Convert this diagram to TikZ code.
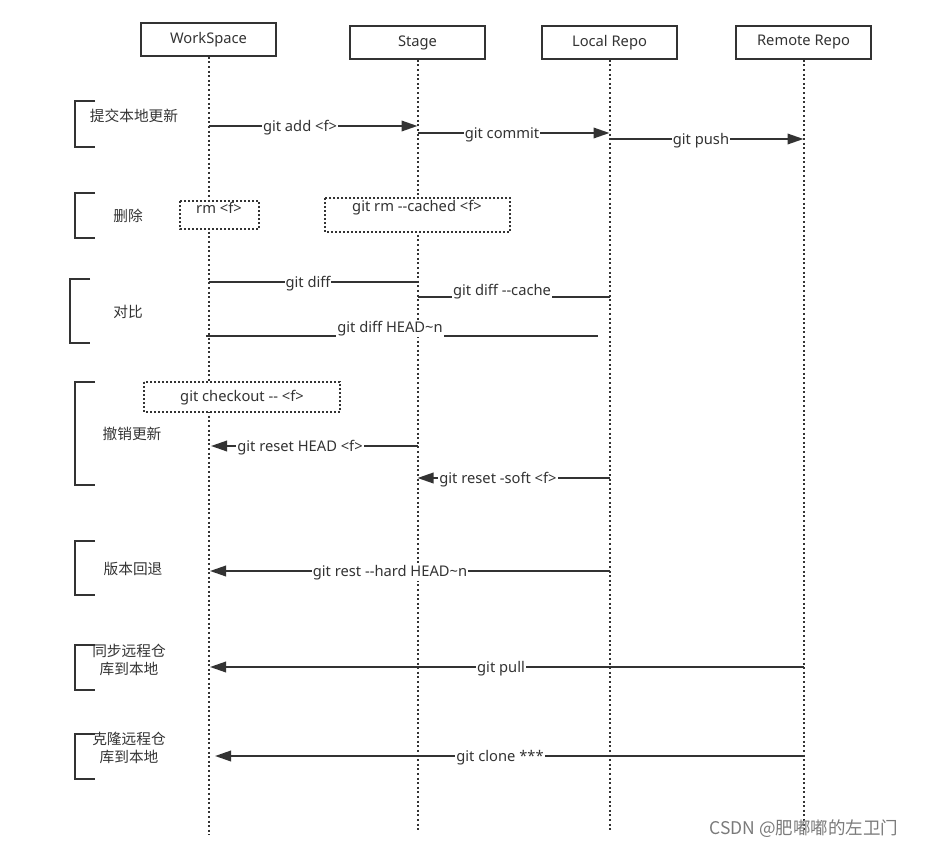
\documentclass[tikz,border=0pt]{standalone}
\usepackage{fontspec}
\newfontfamily\ff{Noto Sans}
\newfontfamily\cjk{Noto Sans CJK SC}
\usetikzlibrary{arrows.meta}
\definecolor{ink}{HTML}{333333}
\definecolor{wm}{HTML}{7A7A7A}
\begin{document}
\begin{tikzpicture}[x=1pt,y=-1pt,
 txt/.style={font=\ff\fontsize{14.7}{17}\selectfont,text=ink},
 hdr/.style={txt,draw=ink,line width=1.8pt,minimum width=135pt,minimum height=33pt,inner sep=0pt},
 life/.style={ink,line width=2pt,dash pattern=on 2pt off 2.6pt},
 msg/.style={ink,line width=2pt},
 arr/.style={msg,-{Triangle[length=16pt,width=10.5pt]}},
 lbl/.style={txt,fill=white,inner sep=1pt,yshift=-1.5pt},
 dbox/.style={draw=ink,fill=white,line width=1.8pt,dash pattern=on 2pt off 2pt},
 brk/.style={ink,line width=1.9pt},
 cat/.style={font=\cjk\fontsize{14.7}{18}\selectfont,text=ink,align=center,inner sep=0pt}
]
\useasboundingbox (0,0) rectangle (925,848);
% headers
\node[hdr] (ws) at (208.5,39.5) {WorkSpace};
\node[hdr] (st) at (417.5,42.5) {Stage};
\node[hdr] (lr) at (609.5,42.5) {Local Repo};
\node[hdr] (rr) at (803.5,42.5) {Remote Repo};
% lifeline ends
\coordinate (wsE) at (208.5,835);
\coordinate (stE) at (417.5,832);
\coordinate (lrE) at (609.5,832);
\coordinate (rrE) at (803.5,832);
\draw[life] (ws.south) -- (wsE);
\draw[life] (st.south) -- (stE);
\draw[life] (lr.south) -- (lrE);
\draw[life] (rr.south) -- (rrE);
% brackets
\draw[brk] (95,101) -- (75,101) -- (75,147) -- (95,147);
\draw[brk] (95,193) -- (75,193) -- (75,238) -- (95,238);
\draw[brk] (90,279) -- (70,279) -- (70,343) -- (90,343);
\draw[brk] (95,382) -- (75,382) -- (75,485) -- (95,485);
\draw[brk] (95,541) -- (75,541) -- (75,595) -- (95,595);
\draw[brk] (95,645) -- (75,645) -- (75,690) -- (95,690);
\draw[brk] (95,734) -- (75,734) -- (75,779) -- (95,779);
\node[cat] (c1) at (134,116) {提交本地更新};
\node[cat] (c2) at (128,216) {删除};
\node[cat] (c3) at (128,312) {对比};
\node[cat] (c4) at (132,434) {撤销更新};
\node[cat] (c5) at (133,569) {版本回退};
\node[cat] (c6) at (129,660) {同步远程仓\\库到本地};
\node[cat] (c7) at (129,748) {克隆远程仓\\库到本地};
% dotted boxes
\draw[dbox] (180,201) rectangle (259,229);
\node[txt,inner sep=0pt] (rm) at (219,208) {rm <f>};
\draw[dbox] (325,198) rectangle (510,232);
\node[txt,inner sep=0pt] (rmc) at (417,208) {git rm --cached <f>};
\draw[dbox] (144,382) rectangle (340,412);
\node[txt,inner sep=0pt] (co) at (242,398) {git checkout -- <f>};
% message endpoints
\coordinate (a1) at (208.5,126); \coordinate (a2) at (417.5,126);
\coordinate (b1) at (417.5,133); \coordinate (b2) at (609.5,133);
\coordinate (p1) at (609.5,139); \coordinate (p2) at (803.5,139);
\coordinate (d1) at (208.5,282); \coordinate (d2) at (417.5,282);
\coordinate (e1) at (417.5,297); \coordinate (e2) at (609.5,297);
\coordinate (h1) at (206,336); \coordinate (h2) at (598,336);
\coordinate (r1) at (417.5,446); \coordinate (r2) at (211,446);
\coordinate (s1) at (609.5,478); \coordinate (s2) at (417.5,478);
\coordinate (k1) at (609.5,571); \coordinate (k2) at (210,571);
\coordinate (l1) at (803.5,667); \coordinate (l2) at (210,667);
\coordinate (n1) at (803.5,756); \coordinate (n2) at (215,756);
% messages
\draw[arr] (a1) -- (a2); \node[lbl] (ma) at (300,126) {git add <f>};
\draw[arr] (b1) -- (b2); \node[lbl] (mb) at (502,133) {git commit};
\draw[arr] (p1) -- (p2); \node[lbl] (mp) at (701,139) {git push};
\draw[msg] (d1) -- (d2); \node[lbl] (md) at (308,282) {git diff};
\draw[msg] (e1) -- (e2); \node[lbl] (me) at (502,290) {git diff --cache};
\draw[msg] (h1) -- (h2); \node[lbl] (mh) at (390,327) {git diff HEAD\textasciitilde n};
\draw[arr] (r1) -- (r2); \node[lbl] (mr) at (300,446) {git reset HEAD <f>};
\draw[arr] (s1) -- (s2); \node[lbl] (ms) at (498,478) {git reset -soft <f>};
\draw[arr] (k1) -- (k2); \node[lbl] (mk) at (390,571) {git rest --hard HEAD\textasciitilde n};
\draw[arr] (l1) -- (l2); \node[lbl] (ml) at (501,667) {git pull};
\draw[arr] (n1) -- (n2); \node[lbl] (mn) at (500,756) {git clone ***};
% watermark
\node[font=\cjk\fontsize{17.5}{20}\selectfont,text=wm,inner sep=0pt] (wmk) at (804,829) {CSDN @肥嘟嘟的左卫门};
\end{tikzpicture}
\end{document}
